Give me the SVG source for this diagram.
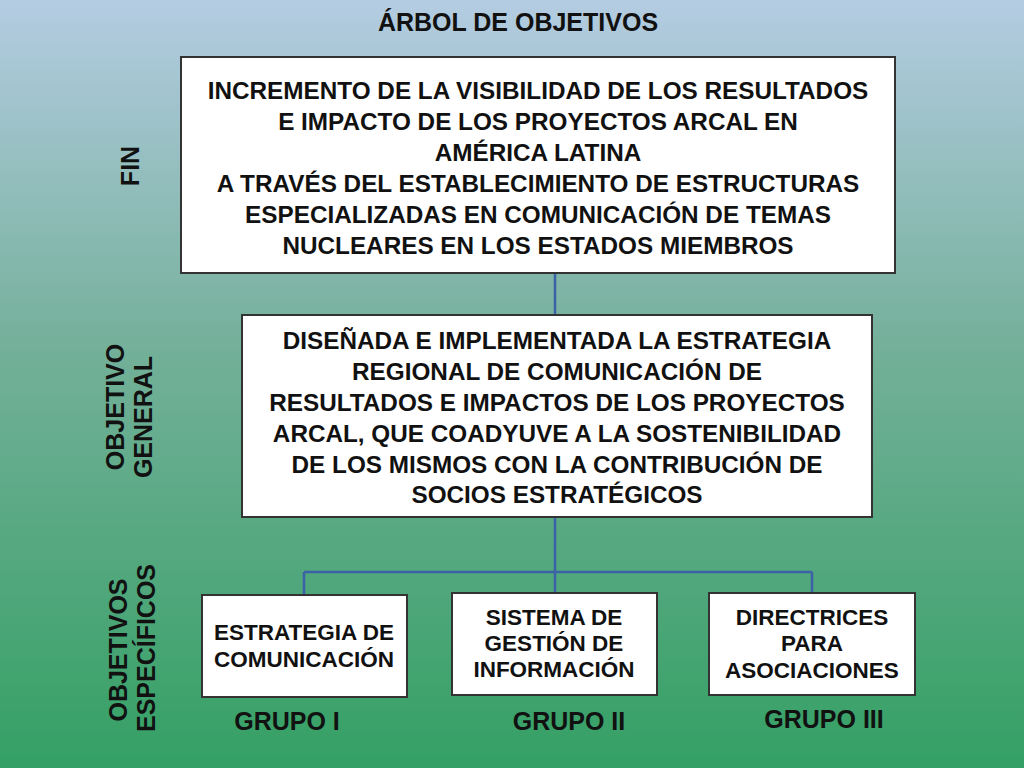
<svg xmlns="http://www.w3.org/2000/svg" width="1024" height="768" viewBox="0 0 1024 768">
<defs>
<linearGradient id="bg" x1="0" y1="0" x2="0" y2="1">
<stop offset="0" stop-color="#b4cce2"/>
<stop offset="0.45" stop-color="#74b09a"/>
<stop offset="1" stop-color="#34a064"/>
</linearGradient>
<style>
text{font-family:"Liberation Sans",Arial,sans-serif;font-weight:bold;fill:#111;text-anchor:middle}
.box{fill:#fff;stroke:#333;stroke-width:2}
.big{font-size:24.3px}
.sm{font-size:22.5px}
.lab{font-size:25px}
.con{stroke:#3b62a6;stroke-width:2.5;fill:none}
</style>
</defs>
<rect width="1024" height="768" fill="url(#bg)"/>
<text class="lab" x="518" y="31">ÁRBOL DE OBJETIVOS</text>
<text class="lab" transform="translate(139,166) rotate(-90)">FIN</text>
<text class="lab" transform="translate(124,407) rotate(-90)">OBJETIVO</text>
<text class="lab" transform="translate(152,417) rotate(-90)">GENERAL</text>
<text class="lab" transform="translate(127,650) rotate(-90)">OBJETIVOS</text>
<text class="lab" transform="translate(155,648) rotate(-90)">ESPECÍFICOS</text>
<g id="connectors">
<path class="con" d="M555 273V315M555 517V572M304 572H812M304 572V595M555 572V593M812 572V593"/>
</g>
<g id="fin">
<rect class="box" x="181" y="57" width="714" height="216"/>
<text class="big" x="538" y="99">INCREMENTO DE LA VISIBILIDAD DE LOS RESULTADOS</text>
<text class="big" x="538" y="130">E IMPACTO DE LOS PROYECTOS ARCAL EN</text>
<text class="big" x="538" y="161">AMÉRICA LATINA</text>
<text class="big" x="538" y="192">A TRAVÉS DEL ESTABLECIMIENTO DE ESTRUCTURAS</text>
<text class="big" x="538" y="223">ESPECIALIZADAS EN COMUNICACIÓN DE TEMAS</text>
<text class="big" x="538" y="254">NUCLEARES EN LOS ESTADOS MIEMBROS</text>
</g>
<g id="general">
<rect class="box" x="242" y="315" width="630" height="202"/>
<text class="big" x="557" y="349">DISEÑADA E IMPLEMENTADA LA ESTRATEGIA</text>
<text class="big" x="557" y="380">REGIONAL DE COMUNICACIÓN DE</text>
<text class="big" x="557" y="411">RESULTADOS E IMPACTOS DE LOS PROYECTOS</text>
<text class="big" x="557" y="442">ARCAL, QUE COADYUVE A LA SOSTENIBILIDAD</text>
<text class="big" x="557" y="473">DE LOS MISMOS CON LA CONTRIBUCIÓN DE</text>
<text class="big" x="557" y="503">SOCIOS ESTRATÉGICOS</text>
</g>
<g id="e1">
<rect class="box" x="202" y="595" width="205" height="102"/>
<text class="sm" x="304" y="640">ESTRATEGIA DE</text>
<text class="sm" x="304" y="667">COMUNICACIÓN</text>
</g>
<g id="e2">
<rect class="box" x="452" y="593" width="205" height="102"/>
<text class="sm" x="554" y="625">SISTEMA DE</text>
<text class="sm" x="554" y="651">GESTIÓN DE</text>
<text class="sm" x="554" y="677">INFORMACIÓN</text>
</g>
<g id="e3">
<rect class="box" x="709" y="593" width="206" height="102"/>
<text class="sm" x="812" y="625">DIRECTRICES</text>
<text class="sm" x="812" y="651">PARA</text>
<text class="sm" x="812" y="678">ASOCIACIONES</text>
</g>
<text class="lab" x="287" y="730">GRUPO I</text>
<text class="lab" x="569" y="730">GRUPO II</text>
<text class="lab" x="824" y="728">GRUPO III</text>
</svg>
